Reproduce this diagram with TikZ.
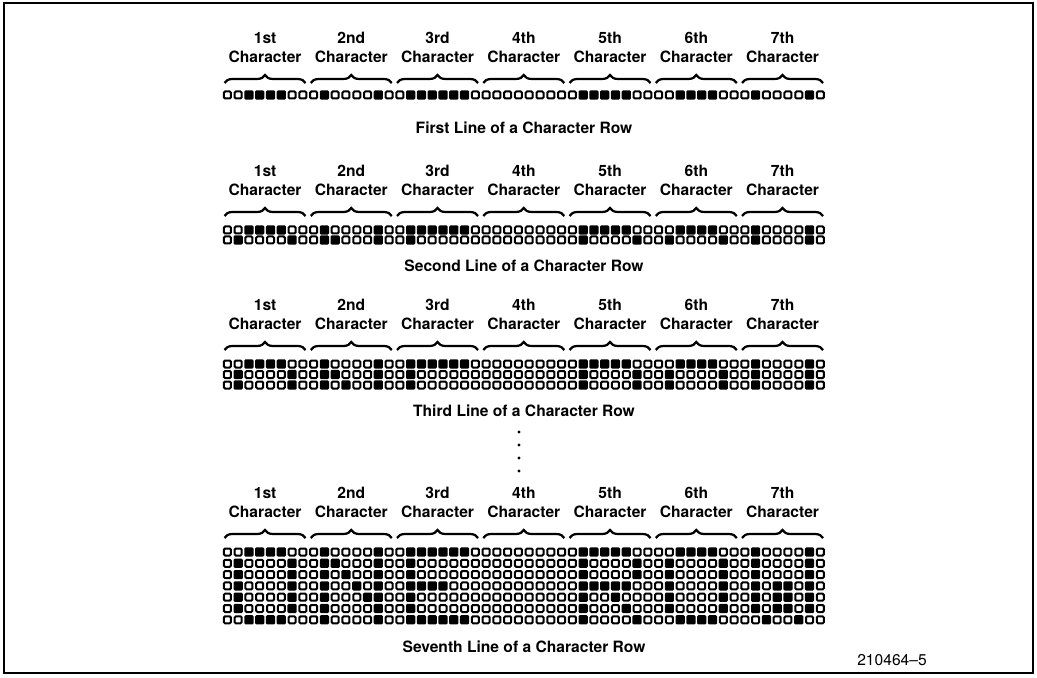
\documentclass[tikz,border=0pt]{standalone}
\usepackage{fontspec}
\setmainfont{TeX Gyre Heros}
\usetikzlibrary{decorations.pathreplacing}
\usetikzlibrary{positioning}

% dot rows of the text "ONE ROW", 8 cells per character
\def\rowA{0,0,1,1,1,1,0,0, 0,1,0,0,0,0,1,0, 0,1,1,1,1,1,1,0, 0,0,0,0,0,0,0,0, 0,1,1,1,1,1,0,0, 0,0,1,1,1,1,0,0, 0,1,0,0,0,0,1,0}
\def\rowB{0,1,0,0,0,0,1,0, 0,1,1,0,0,0,1,0, 0,1,0,0,0,0,0,0, 0,0,0,0,0,0,0,0, 0,1,0,0,0,0,1,0, 0,1,0,0,0,0,1,0, 0,1,0,0,0,0,1,0}
\def\rowC{0,1,0,0,0,0,1,0, 0,1,0,1,0,0,1,0, 0,1,0,0,0,0,0,0, 0,0,0,0,0,0,0,0, 0,1,0,0,0,0,1,0, 0,1,0,0,0,0,1,0, 0,1,0,0,0,0,1,0}
\def\rowD{0,1,0,0,0,0,1,0, 0,1,0,0,1,0,1,0, 0,1,1,1,1,0,0,0, 0,0,0,0,0,0,0,0, 0,1,1,1,1,1,0,0, 0,1,0,0,0,0,1,0, 0,1,0,1,1,0,1,0}
\def\rowE{0,1,0,0,0,0,1,0, 0,1,0,0,0,1,1,0, 0,1,0,0,0,0,0,0, 0,0,0,0,0,0,0,0, 0,1,0,0,1,0,0,0, 0,1,0,0,0,0,1,0, 0,1,0,1,1,0,1,0}
\def\rowF{0,1,0,0,0,0,1,0, 0,1,0,0,0,0,1,0, 0,1,0,0,0,0,0,0, 0,0,0,0,0,0,0,0, 0,1,0,0,0,1,0,0, 0,1,0,0,0,0,1,0, 0,1,0,1,1,0,1,0}
\def\rowG{0,0,1,1,1,1,0,0, 0,1,0,0,0,0,1,0, 0,1,1,1,1,1,1,0, 0,0,0,0,0,0,0,0, 0,1,0,0,0,0,1,0, 0,0,1,1,1,1,0,0, 0,0,1,0,0,1,0,0}

\newcommand{\dotrow}[2]{%
  \edef\curbits{#1}%
  \foreach \bit [count=\c from 0] in \curbits {
    \ifnum\bit=1
      \path[doton] ({227.4+10.78*\c-4.6}, #2-4.6) rectangle ++(9.2,9.2);
    \else
      \path[dotoff] ({227.4+10.78*\c-3.5}, #2-3.5) rectangle ++(7,7);
    \fi
  }}

\newcommand{\charheads}[2]{%
  \foreach \nth [count=\k from 0] in {1st,2nd,3rd,4th,5th,6th,7th} {
    \node[hdr] (#1-nth-\k) at ({265.1+86.25*\k}, #2) {\nth};
    \node[hdr, below=3.4pt of #1-nth-\k] (#1-chr-\k) {Character};
    \draw[charbrace] ({224.5+86.25*\k}, #2+45) -- ({305.5+86.25*\k}, #2+45);
  }}

\begin{document}
\begin{tikzpicture}[x=0.5pt,y=-0.5pt,
  hdr/.style={font=\fontsize{7.8}{9}\selectfont\bfseries, inner sep=0pt},
  lbl/.style={font=\fontsize{7.8}{9}\selectfont\bfseries, inner sep=0pt},
  fignum/.style={font=\fontsize{7.8}{9}\selectfont, inner sep=0pt},
  dotoff/.style={draw=black, line width=1pt, fill=white, rounded corners=0.6pt},
  doton/.style={fill=black, rounded corners=0.6pt},
  charbrace/.style={decorate, decoration={brace, amplitude=4pt}, line width=1.1pt}]
\useasboundingbox (0,0) rectangle (1037,678);
\draw[line width=0.8pt] (4,3) rectangle (1033,673);

% first line
\charheads{one}{38}
\dotrow{\rowA}{95}
\node[lbl] (first) at (524,128) {First Line of a Character Row};

% second line
\charheads{two}{171}
\dotrow{\rowA}{230}
\dotrow{\rowB}{240}
\node[lbl] (second) at (524,266) {Second Line of a Character Row};

% third line
\charheads{three}{305}
\dotrow{\rowA}{364}
\dotrow{\rowB}{374.5}
\dotrow{\rowC}{385}
\node[lbl] (third) at (524,411) {Third Line of a Character Row};

\foreach \y in {432,445,458,471}
  \fill (519,\y) circle (1.6);

% seventh line
\charheads{seven}{493}
\dotrow{\rowA}{552}
\dotrow{\rowB}{563.3}
\dotrow{\rowC}{574.6}
\dotrow{\rowD}{585.9}
\dotrow{\rowE}{597.2}
\dotrow{\rowF}{608.5}
\dotrow{\rowG}{619.8}
\node[lbl] (seventh) at (524,647) {Seventh Line of a Character Row};

\node[fignum] (fig) at (892,660) {210464--5};
\end{tikzpicture}
\end{document}
